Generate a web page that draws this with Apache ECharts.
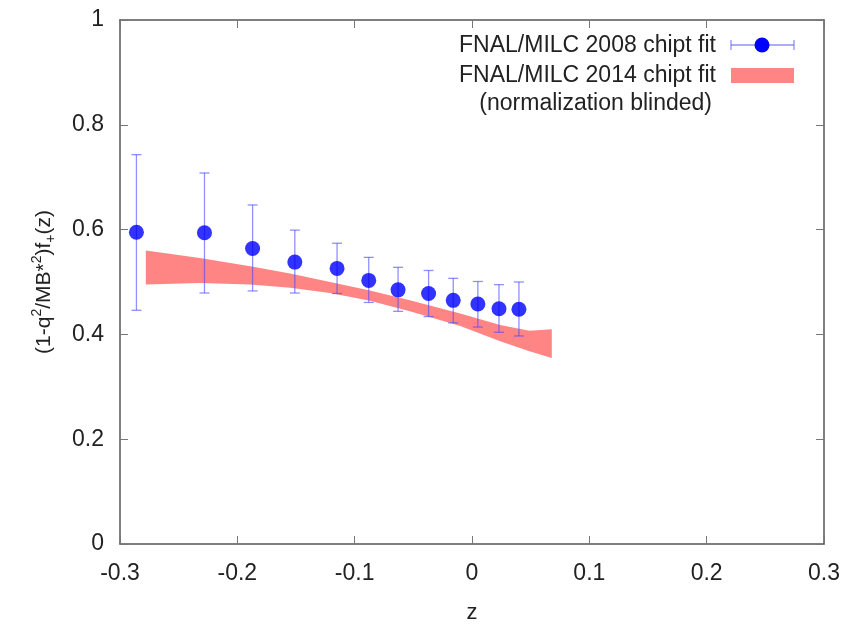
<!DOCTYPE html>
<html>
<head>
<meta charset="utf-8">
<script src="https://cdn.jsdelivr.net/npm/echarts@6/dist/echarts.min.js"></script>
<style>
  html, body { margin: 0; padding: 0; background: #fff; }
  #chart { width: 845px; height: 629px; }
</style>
</head>
<body>
<div id="chart"></div>
<script>
// FNAL/MILC 2008 chipt fit points with error bars
const zPoints = [-0.286, -0.228, -0.187, -0.151, -0.115, -0.088, -0.063, -0.037, -0.016, 0.005, 0.023, 0.040];
const fPoints = [0.595, 0.594, 0.564, 0.538, 0.526, 0.503, 0.485, 0.478, 0.465, 0.458, 0.449, 0.448];
const errHigh = [0.743, 0.708, 0.647, 0.599, 0.574, 0.547, 0.528, 0.522, 0.507, 0.501, 0.495, 0.500];
const errLow  = [0.446, 0.479, 0.483, 0.479, 0.478, 0.461, 0.444, 0.434, 0.422, 0.414, 0.404, 0.397];

// FNAL/MILC 2014 chipt fit band (normalization blinded)
const bandZ     = [-0.278, -0.232, -0.189, -0.155, -0.121, -0.087, -0.053, -0.010, 0.024, 0.049, 0.068];
const bandUpper = [0.560, 0.546, 0.530, 0.516, 0.500, 0.484, 0.465, 0.440, 0.418, 0.407, 0.410];
const bandLower = [0.495, 0.498, 0.495, 0.489, 0.479, 0.464, 0.444, 0.416, 0.387, 0.368, 0.355];

const xTicks = [-0.3, -0.2, -0.1, 0, 0.1, 0.2, 0.3];
const yTicks = [0, 0.2, 0.4, 0.6, 0.8, 1];

const FONT = '"Liberation Sans", Arial, sans-serif';
const errColor = 'rgba(70,70,255,0.6)';
const bandColor = '#ff8585';

const chart = echarts.init(document.getElementById('chart'));

const fmtX = v => {
  const t = xTicks.find(t => Math.abs(t - v) < 1e-9);
  return t === undefined ? '' : String(t);
};
const fmtY = v => {
  const t = yTicks.find(t => Math.abs(t - v) < 1e-9);
  return t === undefined ? '' : String(t);
};

const axisCommon = {
  axisLine: { show: true, onZero: false, lineStyle: { color: '#555', width: 1.5 } },
  axisTick: { show: true, inside: true, length: 8, lineStyle: { color: '#777', width: 1 } },
  splitLine: { show: false },
};

chart.setOption({
  animation: false,
  grid: { left: 120, right: 21, top: 20, bottom: 84 },
  xAxis: [
    {
      type: 'value', min: -0.3, max: 0.3, interval: 0.1,
      name: 'z', nameLocation: 'middle', nameGap: 58,
      nameTextStyle: { fontFamily: FONT, fontSize: 22, color: '#222' },
      axisLabel: { formatter: fmtX, fontFamily: FONT, fontSize: 23, color: '#222', margin: 18 },
      ...axisCommon,
    },
    {
      type: 'value', min: -0.3, max: 0.3, interval: 0.1, position: 'top',
      axisLabel: { show: false },
      ...axisCommon,
    },
  ],
  yAxis: [
    {
      type: 'value', min: 0, max: 1, interval: 0.2,
      name: '(1-q{sup|2}/MB*{sup|2})f{sub|+}(z)', nameLocation: 'middle', nameGap: 62, nameRotate: 90,
      nameTextStyle: {
        fontFamily: FONT, fontSize: 21, color: '#222', lineHeight: 28,
        rich: {
          sup: { fontFamily: FONT, fontSize: 14, color: '#222', verticalAlign: 'top', lineHeight: 28 },
          sub: { fontFamily: FONT, fontSize: 14, color: '#222', verticalAlign: 'bottom', lineHeight: 28 },
        },
      },
      axisLabel: { formatter: fmtY, fontFamily: FONT, fontSize: 23, color: '#222', margin: 16 },
      ...axisCommon,
    },
    {
      type: 'value', min: 0, max: 1, interval: 0.2, position: 'right',
      axisLabel: { show: false },
      ...axisCommon,
    },
  ],
  series: [
    {
      name: 'FNAL/MILC 2014 chipt fit',
      type: 'custom',
      coordinateSystem: 'cartesian2d',
      data: [[bandZ[0], bandUpper[0]]],
      z: 1,
      renderItem: (params, api) => {
        const pts = [];
        bandZ.forEach((x, i) => pts.push(api.coord([x, bandUpper[i]])));
        for (let i = bandZ.length - 1; i >= 0; i--) pts.push(api.coord([bandZ[i], bandLower[i]]));
        return { type: 'polygon', shape: { points: pts }, style: { fill: bandColor } };
      },
    },
    {
      name: 'errors',
      type: 'custom',
      coordinateSystem: 'cartesian2d',
      data: zPoints.map((x, i) => [x, errLow[i], errHigh[i]]),
      z: 2,
      renderItem: (params, api) => {
        const lo = api.coord([api.value(0), api.value(1)]);
        const hi = api.coord([api.value(0), api.value(2)]);
        const cap = 5;
        const style = { stroke: errColor, lineWidth: 1.3 };
        return {
          type: 'group',
          children: [
            { type: 'line', shape: { x1: lo[0], y1: lo[1], x2: hi[0], y2: hi[1] }, style },
            { type: 'line', shape: { x1: lo[0] - cap, y1: lo[1], x2: lo[0] + cap, y2: lo[1] }, style },
            { type: 'line', shape: { x1: hi[0] - cap, y1: hi[1], x2: hi[0] + cap, y2: hi[1] }, style },
          ],
        };
      },
    },
    {
      name: 'FNAL/MILC 2008 chipt fit',
      type: 'scatter',
      data: zPoints.map((x, i) => [x, fPoints[i]]),
      symbol: 'circle',
      symbolSize: 15,
      itemStyle: { color: '#0000ff' },
      z: 3,
    },
  ],
  graphic: [
    { type: 'text', style: { text: 'FNAL/MILC 2008 chipt fit', x: 716, y: 46, align: 'right', verticalAlign: 'middle', font: '23px ' + FONT, fill: '#222' } },
    { type: 'line', shape: { x1: 731, y1: 45, x2: 794, y2: 45 }, style: { stroke: errColor, lineWidth: 1.3 } },
    { type: 'line', shape: { x1: 731, y1: 40, x2: 731, y2: 50 }, style: { stroke: errColor, lineWidth: 1.3 } },
    { type: 'line', shape: { x1: 794, y1: 40, x2: 794, y2: 50 }, style: { stroke: errColor, lineWidth: 1.3 } },
    { type: 'circle', shape: { cx: 762, cy: 45, r: 7.5 }, style: { fill: '#0000ff' } },
    { type: 'text', style: { text: 'FNAL/MILC 2014 chipt fit', x: 716, y: 76, align: 'right', verticalAlign: 'middle', font: '23px ' + FONT, fill: '#222' } },
    { type: 'rect', shape: { x: 731, y: 68, width: 63, height: 15 }, style: { fill: bandColor } },
    { type: 'text', style: { text: '(normalization blinded)', x: 712, y: 104, align: 'right', verticalAlign: 'middle', font: '23px ' + FONT, fill: '#222' } },
  ],
});
</script>
</body>
</html>
